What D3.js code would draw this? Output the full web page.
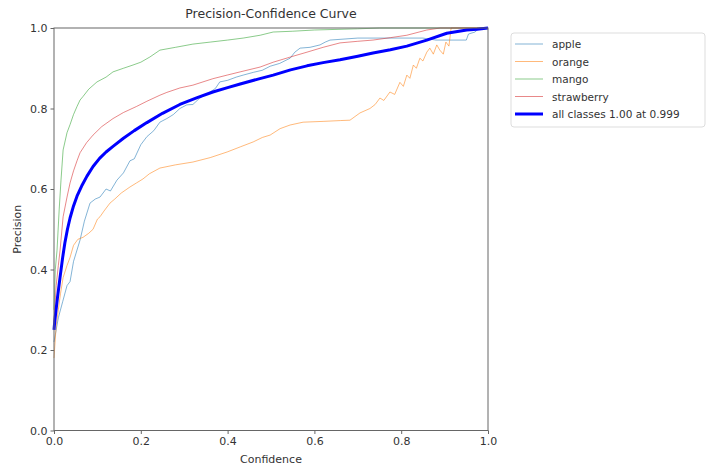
<!DOCTYPE html>
<html>
<head>
<meta charset="utf-8">
<script src="https://cdn.jsdelivr.net/npm/d3@7"></script>
<style>
  body { margin: 0; background: #fff; }
  svg text { font-family: "DejaVu Sans", sans-serif; fill: #333; }
</style>
</head>
<body>
<svg id="chart" width="712" height="466"></svg>
<script>
// class names shown in legend
const classNames = ["apple", "orange", "mango", "strawberry"];
const classColors = ["#1f77b4", "#ff7f0e", "#2ca02c", "#d62728"];
const allLabel = "all classes 1.00 at 0.999";
const tickValues = [0, 0.2, 0.4, 0.6, 0.8, 1.0];

// [confidence, precision]
const apple = [[0,0.22],[0.01,0.28],[0.02,0.32],[0.03,0.36],[0.037,0.37],[0.045,0.42],[0.06,0.473],[0.07,0.52],[0.083,0.565],[0.095,0.575],[0.106,0.58],[0.12,0.6],[0.13,0.595],[0.145,0.622],[0.16,0.64],[0.175,0.67],[0.185,0.675],[0.2,0.71],[0.214,0.73],[0.23,0.745],[0.244,0.766],[0.26,0.775],[0.275,0.785],[0.29,0.80],[0.306,0.809],[0.32,0.81],[0.335,0.825],[0.35,0.835],[0.36,0.841],[0.372,0.85],[0.382,0.866],[0.4,0.87],[0.42,0.878],[0.436,0.883],[0.46,0.89],[0.48,0.895],[0.498,0.905],[0.52,0.912],[0.544,0.925],[0.555,0.94],[0.567,0.95],[0.59,0.952],[0.613,0.958],[0.625,0.965],[0.636,0.97],[0.7,0.975],[0.774,0.975],[0.85,0.975],[0.88,0.97],[0.95,0.97],[0.955,0.985],[0.97,0.99],[0.98,1.0],[1.0,1.0]];
const orange = [[0,0.18],[0.005,0.26],[0.01,0.3],[0.015,0.34],[0.021,0.38],[0.03,0.41],[0.037,0.43],[0.045,0.46],[0.055,0.475],[0.067,0.48],[0.08,0.49],[0.09,0.5],[0.1,0.525],[0.106,0.531],[0.115,0.545],[0.129,0.565],[0.14,0.575],[0.155,0.59],[0.175,0.605],[0.19,0.615],[0.205,0.625],[0.22,0.638],[0.244,0.652],[0.28,0.66],[0.32,0.667],[0.36,0.678],[0.399,0.692],[0.43,0.705],[0.459,0.717],[0.48,0.728],[0.498,0.734],[0.521,0.75],[0.544,0.759],[0.574,0.766],[0.62,0.768],[0.66,0.77],[0.682,0.771],[0.705,0.789],[0.728,0.80],[0.74,0.81],[0.751,0.826],[0.76,0.82],[0.774,0.841],[0.785,0.835],[0.797,0.865],[0.805,0.855],[0.813,0.883],[0.82,0.875],[0.828,0.908],[0.835,0.9],[0.843,0.925],[0.85,0.918],[0.859,0.94],[0.866,0.95],[0.874,0.935],[0.882,0.958],[0.889,0.945],[0.897,0.935],[0.903,0.965],[0.91,0.955],[0.915,1.0],[1.0,1.0]];
const mango = [[0,0.3],[0.003,0.4],[0.007,0.448],[0.012,0.55],[0.016,0.62],[0.021,0.697],[0.03,0.74],[0.037,0.76],[0.045,0.785],[0.053,0.805],[0.06,0.821],[0.067,0.83],[0.08,0.848],[0.099,0.866],[0.12,0.878],[0.136,0.891],[0.16,0.9],[0.182,0.908],[0.2,0.915],[0.221,0.928],[0.244,0.945],[0.28,0.952],[0.32,0.96],[0.36,0.965],[0.4,0.97],[0.436,0.975],[0.475,0.982],[0.505,0.99],[0.55,0.992],[0.6,0.995],[0.7,0.998],[0.75,1.0],[1.0,1.0]];
const strawberry = [[0,0.27],[0.005,0.36],[0.01,0.41],[0.014,0.448],[0.021,0.531],[0.03,0.58],[0.037,0.615],[0.045,0.645],[0.053,0.67],[0.06,0.69],[0.075,0.715],[0.09,0.734],[0.11,0.755],[0.136,0.775],[0.16,0.79],[0.19,0.805],[0.214,0.818],[0.244,0.833],[0.26,0.84],[0.29,0.851],[0.32,0.858],[0.366,0.874],[0.399,0.883],[0.429,0.891],[0.475,0.903],[0.505,0.915],[0.545,0.928],[0.583,0.94],[0.62,0.952],[0.659,0.963],[0.7,0.967],[0.735,0.97],[0.775,0.976],[0.813,0.982],[0.859,0.995],[0.89,1.0],[1.0,1.0]];
const allClasses = [[0,0.25],[0.002,0.274],[0.008,0.33],[0.014,0.381],[0.02,0.43],[0.025,0.466],[0.031,0.5],[0.037,0.528],[0.045,0.558],[0.053,0.582],[0.065,0.61],[0.076,0.632],[0.09,0.656],[0.105,0.676],[0.12,0.692],[0.136,0.706],[0.16,0.726],[0.185,0.745],[0.214,0.765],[0.25,0.788],[0.29,0.81],[0.33,0.827],[0.366,0.841],[0.4,0.852],[0.429,0.861],[0.47,0.873],[0.505,0.883],[0.545,0.896],[0.583,0.906],[0.62,0.914],[0.659,0.921],[0.7,0.93],[0.735,0.938],[0.775,0.946],[0.813,0.955],[0.859,0.97],[0.905,0.987],[0.951,0.995],[0.975,0.997],[1.0,1.0]];

const classSeries = [apple, orange, mango, strawberry];

const svg = d3.select("#chart");
const mLeft = 54, mTop = 28, plotW = 434, plotH = 402.5;

const x = d3.scaleLinear().domain([0, 1]).range([mLeft, mLeft + plotW]);
const y = d3.scaleLinear().domain([0, 1]).range([mTop + plotH, mTop]);

const line = d3.line().x(d => x(d[0])).y(d => y(d[1]));

const plot = svg.append("g");

// class curves (thin)
classSeries.forEach((s, i) => {
  plot.append("path")
    .datum(s)
    .attr("d", line)
    .attr("fill", "none")
    .attr("stroke", classColors[i])
    .attr("stroke-opacity", 0.55)
    .attr("stroke-width", 1);
});

// mean curve (thick)
plot.append("path")
  .datum(allClasses)
  .attr("d", line)
  .attr("fill", "none")
  .attr("stroke", "#0000ff")
  .attr("stroke-width", 3)
  .attr("stroke-linejoin", "round");

// frame
svg.append("rect")
  .attr("x", mLeft).attr("y", mTop)
  .attr("width", plotW).attr("height", plotH)
  .attr("fill", "none").attr("stroke", "#666").attr("stroke-width", 1);

const xAxis = svg.append("g")
  .attr("transform", `translate(0,${mTop + plotH})`)
  .call(d3.axisBottom(x).tickValues(tickValues).tickFormat(d3.format(".1f")).tickSize(3.5).tickPadding(3));
const yAxis = svg.append("g")
  .attr("transform", `translate(${mLeft},0)`)
  .call(d3.axisLeft(y).tickValues(tickValues).tickFormat(d3.format(".1f")).tickSize(3.5).tickPadding(3));
[xAxis, yAxis].forEach(a => {
  a.select(".domain").remove();
  a.selectAll("line").attr("stroke", "#666");
  a.selectAll("text").attr("font-size", 11).attr("fill", "#444");
});

svg.append("text")
  .attr("x", mLeft + plotW / 2).attr("y", 18)
  .attr("text-anchor", "middle").attr("font-size", 12.5)
  .text("Precision-Confidence Curve");

svg.append("text")
  .attr("x", mLeft + plotW / 2).attr("y", 463)
  .attr("text-anchor", "middle").attr("font-size", 11)
  .text("Confidence");

svg.append("text")
  .attr("transform", `translate(21,${mTop + plotH / 2}) rotate(-90)`)
  .attr("text-anchor", "middle").attr("font-size", 11)
  .text("Precision");

// legend
const legend = svg.append("g");
legend.append("rect")
  .attr("x", 511).attr("y", 33).attr("width", 194).attr("height", 94)
  .attr("rx", 3).attr("fill", "#fff").attr("stroke", "#ddd");

const items = classNames.map((n, i) => ({ name: n, color: classColors[i], w: 1, op: 0.55 }))
  .concat([{ name: allLabel, color: "#0000ff", w: 3, op: 1 }]);

items.forEach((it, i) => {
  const ly = 44 + i * 17.5;
  legend.append("line")
    .attr("x1", 515).attr("x2", 543).attr("y1", ly).attr("y2", ly)
    .attr("stroke", it.color).attr("stroke-width", it.w).attr("stroke-opacity", it.op);
  legend.append("text")
    .attr("x", 552).attr("y", ly + 4)
    .attr("font-size", 10.5)
    .text(it.name);
});
</script>
</body>
</html>
